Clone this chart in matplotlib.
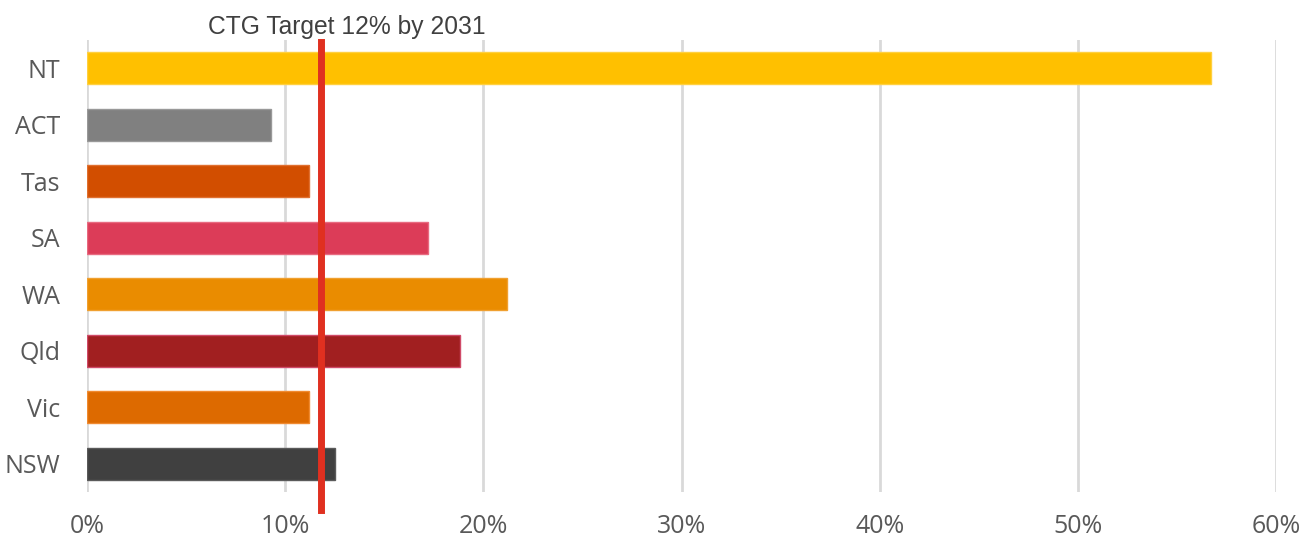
import matplotlib.pyplot as plt
from matplotlib.ticker import FuncFormatter

# states, bottom to top as drawn
states = ['NSW', 'Vic', 'Qld', 'WA', 'SA', 'Tas', 'ACT', 'NT']
values = [12.5, 11.2, 18.8, 21.2, 17.2, 11.2, 9.3, 56.7]
colors = ['#404040', '#DD6A00', '#A11F20', '#EA8C00', '#DC3C58', '#D24E00', '#808080', '#FFC000']
edges = ['#5a5a5a', '#f08a30', '#d04a68', '#f0a030', '#e86a80', '#e07030', '#999999', '#ffd040']
target = 11.8
target_label = 'CTG Target 12% by 2031'
xticks = [0, 10, 20, 30, 40, 50, 60]

fig = plt.figure(figsize=(13.14, 5.42), dpi=100)
ax = fig.add_axes([0.0662, 0.0923, 0.905, 0.834])

ax.barh(range(len(states)), values, height=0.57, color=colors, edgecolor=edges,
        linewidth=1, zorder=2)

ax.set_xlim(0, 60)
ax.set_ylim(-0.5, 7.5)
ax.set_xticks(xticks)
ax.xaxis.set_major_formatter(FuncFormatter(lambda v, p: f'{v:.0f}%'))
ax.set_yticks(range(len(states)))
ax.set_yticklabels(states)
ax.tick_params(length=0, labelsize=18, labelcolor='#595959')
ax.tick_params(axis='x', pad=16)
ax.tick_params(axis='y', pad=19)
for lbl in ax.get_xticklabels() + ax.get_yticklabels():
    lbl.set_family(['Open Sans', 'DejaVu Sans'])

ax.grid(axis='x', color='#D9D9D9', linewidth=2, zorder=0)
ax.set_axisbelow(True)
for s in ax.spines.values():
    s.set_visible(False)

# target line runs a bit below the axis
ax.axvline(target, ymin=-0.04, ymax=0.995, color='#E03020', linewidth=5,
           zorder=3, clip_on=False)
# label sits a little right of the line, as in the original
ax.text(target + 1.3, 1.003, target_label, transform=ax.get_xaxis_transform(),
        ha='center', va='bottom', fontsize=17.7, color='#404040',
        family='Liberation Sans')

fig.savefig('out.png')
